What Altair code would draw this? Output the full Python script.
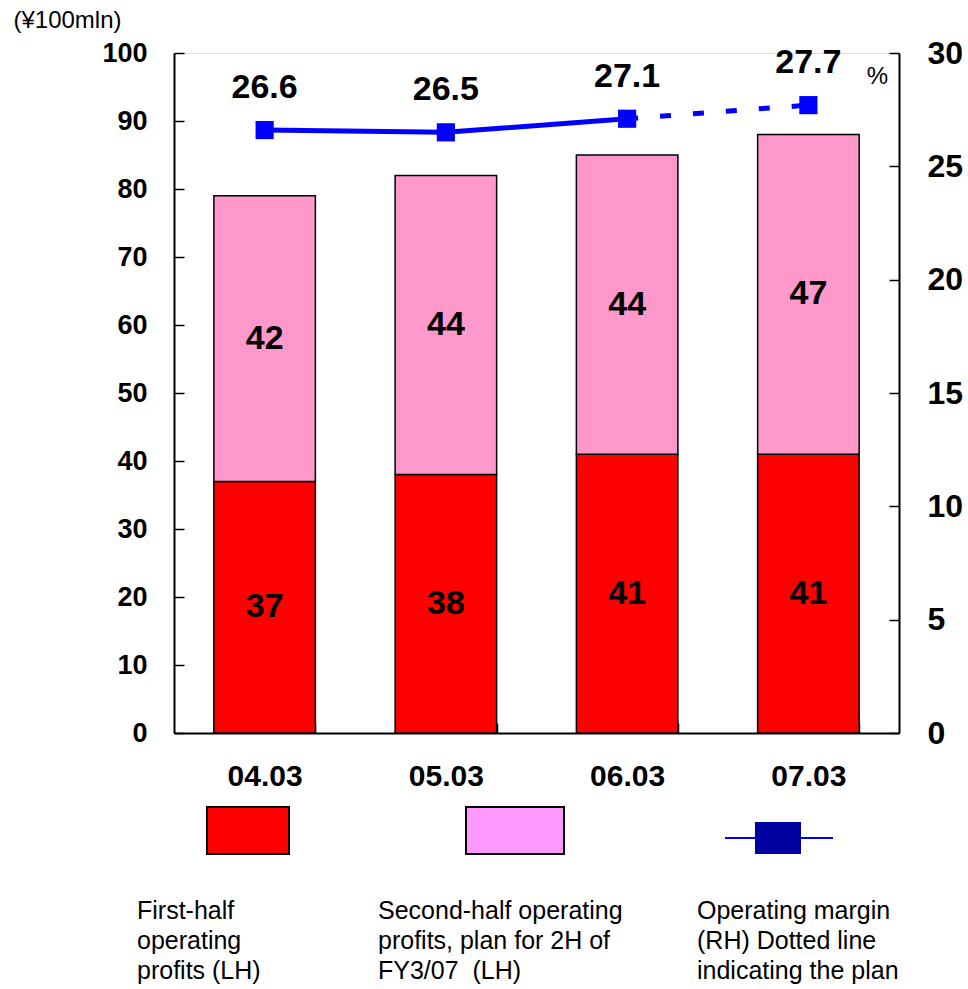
import altair as alt
import pandas as pd

# ---- data -------------------------------------------------------------
periods = ["04.03", "05.03", "06.03", "07.03"]
first_half = [37, 38, 41, 41]          # first-half operating profits (¥100mln)
second_half = [42, 44, 44, 47]         # second-half / 2H plan (¥100mln)
margin = [26.6, 26.5, 27.1, 27.7]      # operating margin (%)
plan_start = 2                         # margin from this index onward is the plan

legend_texts = [
    ["First-half", "operating", "profits (LH)"],
    ["Second-half operating", "profits, plan for 2H of", "FY3/07\u00a0 (LH)"],
    ["Operating margin", "(RH) Dotted line", "indicating the plan"],
]

FONT = "Liberation Sans"
RED = "#FF0000"
PINK = "#FF99CC"
PINK_KEY = "#FF99FF"
BLUE = "#0000FF"
NAVY = "#0000A0"

# ---- tables -----------------------------------------------------------
rows = []
for p, a, b in zip(periods, first_half, second_half):
    rows.append({"period": p, "part": "first", "value": a, "lo": 0, "hi": a, "mid": a / 2})
    rows.append({"period": p, "part": "second", "value": b, "lo": a, "hi": a + b, "mid": a + b / 2})
bars_df = pd.DataFrame(rows)

margin_df = pd.DataFrame({"period": periods, "margin": margin, "idx": range(len(periods))})
actual_df = margin_df[margin_df["idx"] <= plan_start]
plan_df = margin_df[margin_df["idx"] >= plan_start]
one = pd.DataFrame({"k": [0]})

# ---- shared encodings -------------------------------------------------
x_axis = alt.Axis(
    title=None, labelAngle=0, labelFont=FONT, labelFontSize=30, labelFontWeight="bold",
    labelColor="black", labelPadding=28, ticks=False, tickSize=0,
    domainColor="black", domainWidth=2, tickBand="extent",
    grid=True, gridColor="black", gridWidth=1.5, gridDash=[0, 670, 10, 1000],
)
x_enc = alt.X("period:N", sort=periods, axis=x_axis,
              scale=alt.Scale(paddingInner=0.44, paddingOuter=0.22))

left_axis = alt.Axis(
    values=list(range(0, 101, 10)), title="(¥100mln)", titleAngle=0, titleX=-107, titleY=-33,
    titleAlign="center", titleBaseline="middle", titleFont=FONT, titleFontSize=24,
    titleFontWeight="normal", titleColor="black",
    labelFont=FONT, labelFontSize=27, labelFontWeight="bold", labelColor="black",
    labelPadding=27, ticks=False, tickSize=0, domainColor="black", domainWidth=2,
    grid=True, gridColor="black", gridWidth=1.5, gridDash=[10, 1000],
)
left_scale = alt.Scale(domain=[0, 100], nice=False)

right_axis = alt.Axis(
    orient="right", values=list(range(0, 31, 5)), title="%", titleAngle=0, titleX=-22, titleY=23,
    titleAlign="center", titleBaseline="middle", titleFont=FONT, titleFontSize=24,
    titleFontWeight="normal", titleColor="black",
    labelFont=FONT, labelFontSize=32, labelFontWeight="bold", labelColor="black",
    labelPadding=28, ticks=False, tickSize=0, domainColor="black", domainWidth=2,
    grid=True, gridColor="black", gridWidth=1.5, gridDash=[10, 1000],
)
right_scale = alt.Scale(domain=[0, 30], nice=False)

# ---- left: stacked operating profits ---------------------------------
bars = alt.Chart(bars_df).mark_bar(stroke="black", strokeWidth=1.5).encode(
    x=x_enc,
    y=alt.Y("lo:Q", scale=left_scale, axis=left_axis),
    y2="hi:Q",
    color=alt.Color("part:N", scale=alt.Scale(domain=["first", "second"], range=[RED, PINK]),
                    legend=None),
)
bar_labels = alt.Chart(bars_df).mark_text(
    font=FONT, fontSize=34, fontWeight="bold", color="black", baseline="middle"
).encode(
    x=x_enc,
    y=alt.Y("mid:Q", scale=left_scale, axis=left_axis),
    text=alt.Text("value:Q"),
)
left = alt.layer(bars, bar_labels)

# ---- right: operating margin -----------------------------------------
m_y = alt.Y("margin:Q", scale=right_scale, axis=right_axis)
line_actual = alt.Chart(actual_df).mark_line(color=BLUE, strokeWidth=5).encode(x=x_enc, y=m_y)
line_plan = alt.Chart(plan_df).mark_line(color=BLUE, strokeWidth=5, strokeDash=[11, 22]).encode(
    x=x_enc, y=m_y)
squares = alt.Chart(margin_df).mark_square(size=330, color=BLUE, opacity=1).encode(x=x_enc, y=m_y)
margin_labels = alt.Chart(margin_df).mark_text(
    font=FONT, fontSize=34, fontWeight="bold", color="black", baseline="middle", dy=-42
).encode(x=x_enc, y=m_y, text=alt.Text("margin:Q", format=".1f"))

# ---- key below the chart ---------------------------------------------
key_first = alt.Chart(one).mark_rect(fill=RED, stroke="black", strokeWidth=2).encode(
    x=alt.value(33), x2=alt.value(115), y=alt.value(754), y2=alt.value(801))
key_second = alt.Chart(one).mark_rect(fill=PINK_KEY, stroke="black", strokeWidth=2).encode(
    x=alt.value(292), x2=alt.value(390), y=alt.value(754), y2=alt.value(801))
key_line = alt.Chart(one).mark_rule(color=BLUE, strokeWidth=2).encode(
    x=alt.value(551), x2=alt.value(659), y=alt.value(785))
key_marker = alt.Chart(one).mark_rect(fill=NAVY).encode(
    x=alt.value(581), x2=alt.value(627), y=alt.value(769), y2=alt.value(801))

key_text_x = [-37, 204, 523]
key_texts = [
    alt.Chart(one).mark_text(
        text=lines, font=FONT, fontSize=25, color="black", align="left",
        baseline="alphabetic", lineHeight=30,
    ).encode(x=alt.value(tx), y=alt.value(866))
    for lines, tx in zip(legend_texts, key_text_x)
]

right = alt.layer(line_actual, line_plan, squares, margin_labels,
                  key_first, key_second, key_line, key_marker, *key_texts)

chart = alt.layer(left, right).resolve_scale(y="independent").properties(
    width=725, height=680,
    padding={"left": 174, "top": 53, "right": 69, "bottom": 256},
    autosize=alt.AutoSizeParams(type="none"),
).configure_view(stroke="transparent").configure(background="white")

chart.save("out.html", embed_options={"renderer": "svg", "actions": False})
